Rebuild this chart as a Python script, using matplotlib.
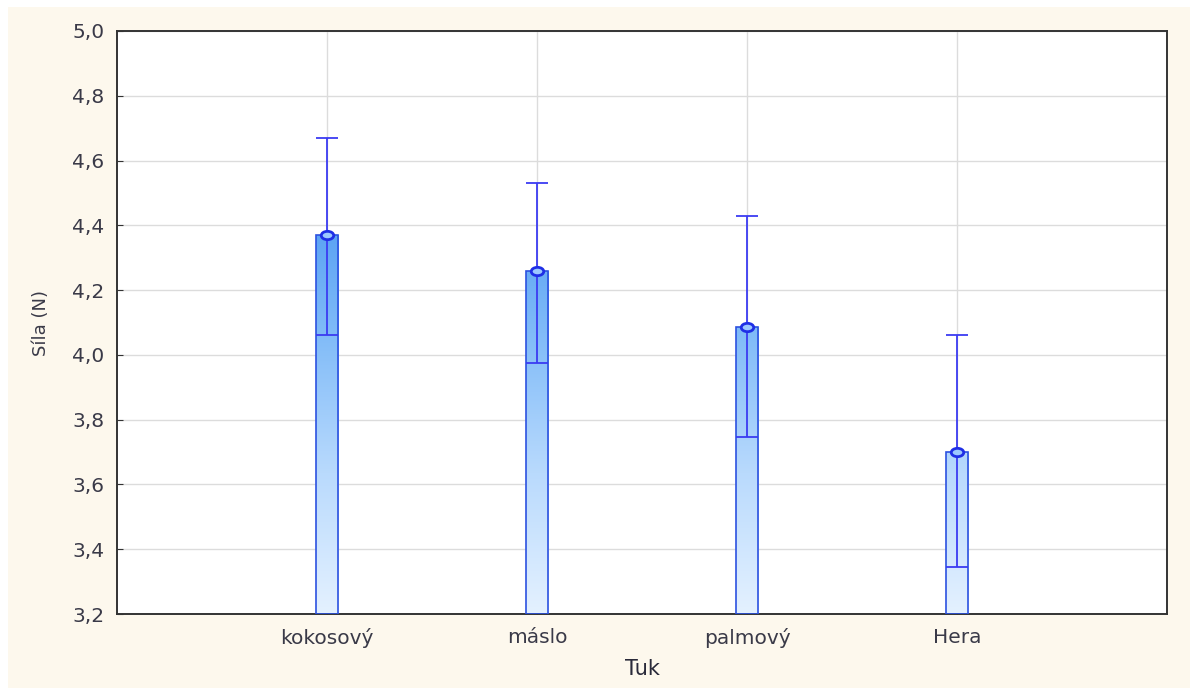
import matplotlib
matplotlib.use("Agg")
import matplotlib.pyplot as plt
import numpy as np
from matplotlib.colors import LinearSegmentedColormap
from matplotlib.patches import Rectangle
from matplotlib.path import Path
from matplotlib.transforms import Affine2D
from matplotlib.ticker import FuncFormatter

# mean force with lower / upper error limits per fat type
categories = ["kokosový", "máslo", "palmový", "Hera"]
means = [4.37, 4.26, 4.085, 3.70]
lower = [4.06, 3.975, 3.745, 3.345]
upper = [4.67, 4.53, 4.43, 4.06]

y_min, y_max = 3.2, 5.0
y_ticks = [3.2, 3.4, 3.6, 3.8, 4.0, 4.2, 4.4, 4.6, 4.8, 5.0]

plt.rcParams["font.family"] = ["DejaVu Sans"]

fig = plt.figure(figsize=(11.9, 6.88), dpi=100)
fig.patch.set_facecolor("white")
# cream panel behind the plot
fig.patches.append(Rectangle((8 / 1190, 0), 1 - 8 / 1190, 1 - 7 / 688,
                             transform=fig.transFigure, facecolor="#fdf8ed",
                             edgecolor="none", zorder=-10))

ax = fig.add_axes([117 / 1190, 74 / 688, 1050 / 1190, 583 / 688])
ax.set_facecolor("white")
ax.set_xlim(0, 5)
ax.set_ylim(y_min, y_max)

x = np.arange(1, len(categories) + 1)
bar_w = 0.105

ax.grid(True, color="#dcdcdc", linewidth=1.0, zorder=0)
ax.set_axisbelow(True)

# vertical gradient shared by all bars, clipped to each bar
cmap = LinearSegmentedColormap.from_list(
    "bargrad", ["#e4f1ff", "#b9dafd", "#80bbf8", "#4e9af2"])
grad = np.linspace(0, 1, 256).reshape(-1, 1)
bars = ax.bar(x, np.array(means) - y_min, bottom=y_min, width=bar_w,
              facecolor="none", edgecolor="#2c52e0", linewidth=1.2, zorder=3)
for b in bars:
    im = ax.imshow(grad, cmap=cmap, origin="lower", aspect="auto",
                   extent=[0, 5, y_min, 4.5], vmin=0, vmax=1, zorder=2)
    im.set_clip_path(b)

err_col = "#3b3bf2"
ax.errorbar(x, means,
            yerr=[np.array(means) - np.array(lower),
                  np.array(upper) - np.array(means)],
            fmt="none", ecolor=err_col, elinewidth=1.3, capsize=8,
            capthick=1.3, zorder=4)

# flattened ring marker for the means
oval = Path.unit_circle().transformed(Affine2D().scale(1.5, 1.0))
ax.plot(x, means, linestyle="none", marker=oval, ms=9, mfc="#9cc8ff",
        mec="#1f2fe6", mew=2.0, zorder=5)

ax.set_xticks(x)
ax.set_xticklabels(categories)
ax.set_yticks(y_ticks)
ax.yaxis.set_major_formatter(FuncFormatter(lambda v, p: f"{v:.1f}".replace(".", ",")))
ax.tick_params(axis="both", direction="in", length=4, colors="#333333",
               labelsize=14.5, labelcolor="#3a3a48")
ax.tick_params(axis="x", pad=10)
ax.tick_params(axis="y", pad=9)

for s in ax.spines.values():
    s.set_color("#333333")
    s.set_linewidth(1.4)

ax.set_xlabel("Tuk", fontsize=15, color="#2a2a3a", labelpad=8)
ax.set_ylabel("Síla (N)", fontsize=13, color="#3a3a48", labelpad=16)

fig.savefig("out.png", dpi=100, facecolor=fig.get_facecolor())
